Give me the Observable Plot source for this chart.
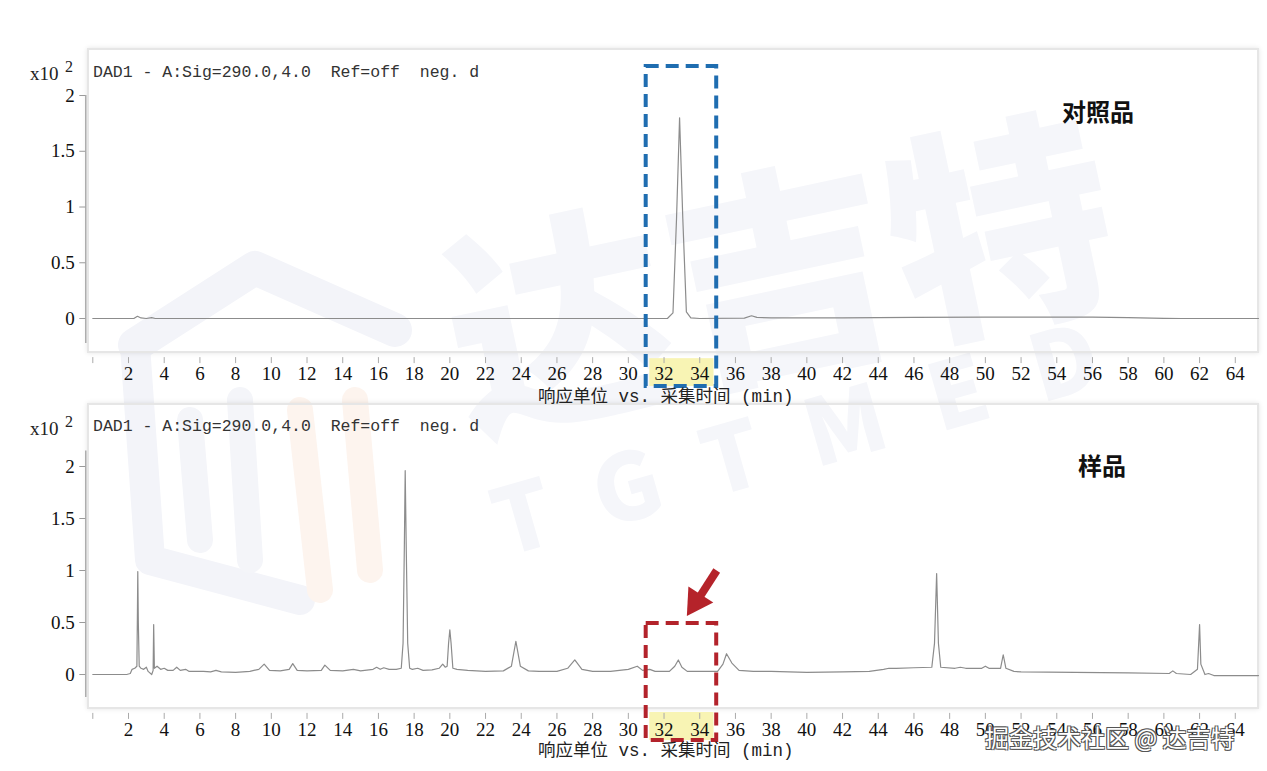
<!DOCTYPE html>
<html><head><meta charset="utf-8">
<script src="https://cdn.jsdelivr.net/npm/d3@7"></script>
<script src="https://cdn.jsdelivr.net/npm/@observablehq/plot@0.6"></script>
<style>
body{margin:0;background:#fff;}
#wrap{position:relative;width:1267px;height:771px;overflow:hidden;background:#fff;}
.frame{position:absolute;border:2px solid #e6e6e6;box-shadow:0 0 5px rgba(0,0,0,0.10);box-sizing:border-box;}
.t{position:absolute;line-height:1;white-space:pre;}
.sig{font-family:"Liberation Mono",monospace;font-size:16.5px;color:#333;}
.exp{font-family:"Liberation Serif",serif;font-size:19px;color:#222;}
.sup{font-family:"Liberation Serif",serif;font-size:16px;color:#222;}
.xt{font-family:"Liberation Mono","Noto Sans CJK SC",monospace;font-size:17.5px;color:#222;}
.lab{font-family:"Noto Sans CJK SC",sans-serif;font-weight:bold;font-size:24px;color:#111;}
.wm{position:absolute;font-family:"Noto Sans CJK SC",sans-serif;font-weight:900;color:#f5f6fa;white-space:pre;line-height:1;}
.jj{font-family:"Noto Sans CJK SC",sans-serif;font-size:24px;color:#fff;
  text-shadow:1px 1px 0 #555,-1px -1px 0 #555,1px -1px 0 #555,-1px 1px 0 #555;}
svg.plotsvg{position:absolute;left:0;top:0;}
#logo{position:absolute;left:0;top:0;}
</style></head>
<body><div id="wrap">
<svg id="logo" width="1267" height="771">
  <g fill="none" stroke-linejoin="round" stroke-linecap="round">
    <path d="M135,345 L255,268 L395,330" stroke="#f3f4f9" stroke-width="34"/>
    <path d="M135,345 L150,560 L300,600" stroke="#f3f4f9" stroke-width="30"/>
    <path d="M190,420 L200,540 M240,400 L250,560" stroke="#f4f5f9" stroke-width="26"/>
    <path d="M300,410 L320,590 M355,400 L370,570" stroke="#fdf4ee" stroke-width="26"/>
  </g>
</svg>
<div class="wm" style="left:440px;top:150px;font-size:225px;transform:rotate(-12deg);transform-origin:center;">达吉特</div>
<div class="wm" style="left:480px;top:380px;font-size:92px;letter-spacing:48px;transform:rotate(-16deg);transform-origin:center;">TGTMED</div>
<div class="frame" style="left:87px;top:48px;width:1172px;height:305px;"></div>
<div class="frame" style="left:87px;top:403px;width:1172px;height:306px;"></div>
<div class="t exp" style="left:30px;top:64px;">x10</div>
<div class="t sup" style="left:65px;top:59px;">2</div>
<div class="t sig" style="left:93px;top:65px;">DAD1 - A:Sig=290.0,4.0  Ref=off  neg. d</div>
<div class="t exp" style="left:30px;top:419px;">x10</div>
<div class="t sup" style="left:65px;top:414px;">2</div>
<div class="t sig" style="left:93px;top:419px;">DAD1 - A:Sig=290.0,4.0  Ref=off  neg. d</div>
<div class="t lab" style="left:1062px;top:99px;">对照品</div>
<div class="t lab" style="left:1078px;top:453px;">样品</div>
<div id="charts"></div>
<div class="t xt" style="left:538px;top:389px;">响应单位 vs. 采集时间 (min)</div>
<div class="t xt" style="left:538px;top:743px;">响应单位 vs. 采集时间 (min)</div>
<div class="t jj" style="left:985px;top:725px;">掘金技术社区 @ 达吉特</div>
</div>
<script>
// Retention time (min) vs response (x10^2), reference standard
const refTrace = [
 [0,0],[2.3,0],[2.5,0.02],[2.7,0.005],[3.0,0],[3.3,0.008],[3.5,0],[10,0],[20,0],[30,0],
 [32.2,0.002],[32.5,0.05],[32.7,0.9],[32.87,1.80],[33.05,0.9],[33.25,0.06],[33.5,0.005],[34,0],
 [36.5,0.003],[36.9,0.025],[37.2,0.01],[38,0.005],[42,0.005],[46,0.01],[50,0.012],[56,0.012],
 [58,0.008],[60,0.002],[61,0],[65.3,0]
];
// sample
const sampleTrace = [
 [0,0],[1.9,0],[2.1,0.01],[2.2,0.05],[2.35,0.06],[2.47,0.08],[2.5,0.6],[2.52,0.99],[2.55,0.5],
 [2.6,0.08],[2.7,0.06],[2.85,0.05],[3.0,0.07],[3.1,0.03],[3.3,0.0],[3.38,0.04],[3.41,0.48],
 [3.45,0.06],[3.6,0.08],[3.8,0.05],[4.0,0.06],[4.2,0.04],[4.5,0.04],[4.7,0.07],[4.9,0.04],
 [5.2,0.05],[5.4,0.03],[5.8,0.03],[6.2,0.03],[6.6,0.025],[6.9,0.04],[7.2,0.025],[8,0.02],
 [8.8,0.03],[9.3,0.05],[9.6,0.1],[9.9,0.04],[10.5,0.035],[11.0,0.05],[11.2,0.105],[11.45,0.04],
 [12,0.035],[12.8,0.04],[13.0,0.09],[13.3,0.04],[14,0.035],[14.6,0.05],[15,0.035],[15.7,0.05],
 [15.9,0.07],[16.1,0.05],[16.3,0.065],[16.6,0.05],[17.0,0.05],[17.28,0.06],[17.38,0.3],
 [17.45,1.2],[17.5,1.96],[17.56,1.2],[17.64,0.3],[17.75,0.06],[17.9,0.05],[18.2,0.06],
 [18.5,0.04],[19.0,0.045],[19.4,0.06],[19.6,0.1],[19.75,0.07],[19.85,0.08],[19.93,0.3],
 [20.0,0.43],[20.07,0.3],[20.17,0.06],[20.4,0.05],[21,0.04],[22,0.03],[23,0.035],
 [23.45,0.08],[23.7,0.32],[23.95,0.08],[24.4,0.035],[25,0.03],[26,0.03],[26.6,0.06],[27.0,0.14],
 [27.4,0.05],[28,0.03],[29,0.03],[30,0.05],[30.5,0.08],[30.8,0.04],[31.2,0.05],[31.5,0.03],
 [32.3,0.03],[32.6,0.08],[32.8,0.14],[33.0,0.07],[33.3,0.03],[34,0.03],[35,0.03],[35.3,0.1],
 [35.5,0.2],[35.8,0.11],[36.2,0.04],[37,0.03],[38,0.03],[40,0.02],[42,0.025],[43.5,0.03],
 [44.3,0.05],[44.6,0.06],[45,0.06],[46,0.065],[47.0,0.07],[47.15,0.3],[47.27,0.97],
 [47.37,0.3],[47.5,0.07],[48.3,0.06],[48.6,0.07],[48.9,0.06],[49.8,0.06],[50.0,0.08],[50.2,0.06],
 [50.85,0.06],[51.0,0.19],[51.15,0.06],[51.6,0.03],[52,0.025],[55,0.02],[58,0.015],[60.3,0.01],
 [60.5,0.035],[60.7,0.01],[61.5,0.0],[61.88,0.05],[61.95,0.3],[62.0,0.48],[62.07,0.1],
 [62.3,0.0],[62.5,0.01],[62.8,-0.01],[65.3,-0.01]
];
const xTicks = [0,2,4,6,8,10,12,14,16,18,20,22,24,26,28,30,32,34,36,38,40,42,44,46,48,50,52,54,56,58,60,62,64];
const yTicks = [0,0.5,1,1.5,2];
const yTickLabels = ["0","0.5","1","1.5","2"];
const xDomain = [0,65.3];
// annotations (data units)
const refBox = [{x1:31.0, x2:34.95, y1:-0.61, y2:2.26}];
const refHighlight = [{x1:31.2, x2:34.8, y1:-0.61, y2:-0.36}];
const sampleBox = [{x1:31.0, x2:34.95, y1:-0.635, y2:0.49}];
const sampleHighlight = [{x1:31.2, x2:34.8, y1:-0.635, y2:-0.365}];
const arrowShaft = [{x1:34.95, y1:1.0, x2:33.9, y2:0.72}];
const arrowHead = [{x:33.8, y:0.70}];

const W=1267, H=771;
function panel(opts){
  const rows = opts.trace.map(([t,v])=>({t,v}));
  return Plot.plot({
    width:W, height:H,
    marginLeft:92.3, marginRight:9, marginTop:opts.mt, marginBottom:opts.mb,
    x:{domain:xDomain},
    y:{domain:opts.yDomain},
    style:{background:"transparent", fontFamily:"Liberation Serif, serif", fontSize:"19px", color:"#111"},
    className:"plotsvg",
    marks:[
      Plot.rect(opts.highlight,{x1:"x1",x2:"x2",y1:"y1",y2:"y2",fill:"#f8f4b4"}),
      Plot.ruleX([0],{y1:opts.yDomain[0], y2:opts.axisTop, dx:-7, stroke:"#9a9a9a", strokeWidth:1.2}),
      Plot.axisY({ticks:yTicks, tickFormat:d=>yTickLabels[yTicks.indexOf(d)], tickSize:6, tickPadding:5, dx:-7, stroke:"#9a9a9a", label:null, fontSize:19}),
      Plot.axisX({ticks:xTicks, tickFormat:d=>d===0?"":String(d), tickSize:6, tickPadding:3, dy:opts.xdy, stroke:"#aaa", label:null, fontSize:19}),
      Plot.line(rows,{x:"t", y:"v", stroke:"#8c8c8c", strokeWidth:1.2}),
      Plot.rect(opts.box,{x1:"x1",x2:"x2",y1:"y1",y2:"y2",fill:"none",stroke:opts.boxColor,strokeWidth:4,strokeDasharray:"13,7"}),
      ...(opts.arrow ? [
        Plot.link(arrowShaft,{x1:"x1",y1:"y1",x2:"x2",y2:"y2",stroke:"#b5232a",strokeWidth:8}),
        Plot.dot(arrowHead,{x:"x",y:"y",symbol:"triangle",r:11,rotate:213,fill:"#b5232a",stroke:"none"})
      ] : [])
    ]
  });
}
const refChart = panel({trace:refTrace, mt:78.3, mb:H-343.1, yDomain:[-0.225,2.15], axisTop:2.0, xdy:14,
  highlight:refHighlight, box:refBox, boxColor:"#1f6db0", arrow:false});
const sampleChart = panel({trace:sampleTrace, mt:450.4, mb:H-696.9, yDomain:[-0.22,2.15], axisTop:2.15, xdy:16,
  highlight:sampleHighlight, box:sampleBox, boxColor:"#b3232b", arrow:true});
const c = document.getElementById("charts");
c.appendChild(refChart); c.appendChild(sampleChart);
</script>
</body></html>
